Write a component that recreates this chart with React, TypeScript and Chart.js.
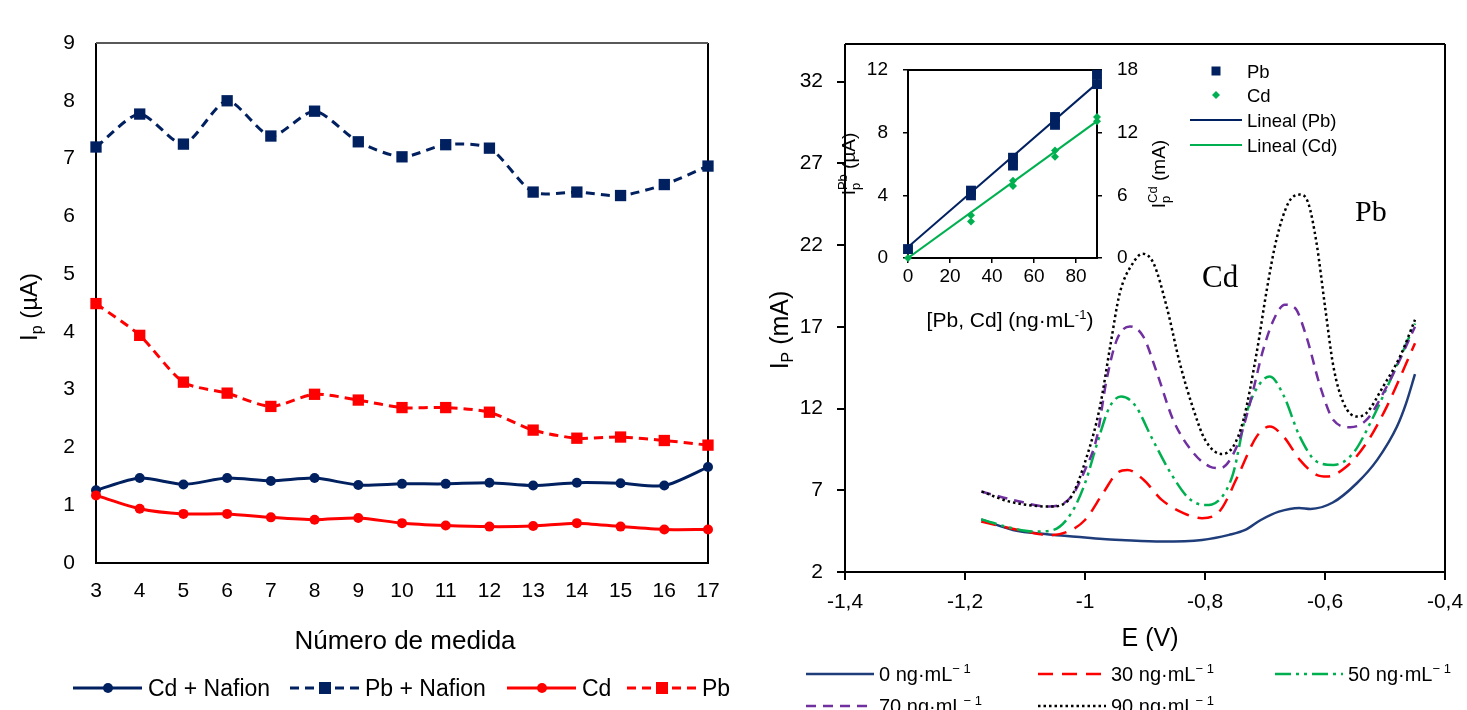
import React, { useEffect, useRef } from 'react';
import { Chart, registerables } from 'chart.js';

Chart.register(...registerables);

const SANS = '"Liberation Sans", Arial, Helvetica, sans-serif';
const SERIF = '"Liberation Serif", "Times New Roman", serif';
Chart.defaults.font.family = SANS;

const NAVY = '#002060';
const RED = '#FF0000';
const GREEN = '#00B050';
const PURPLE = '#7030A0';
const BLUE0 = '#1F3D7A';

// ---------- left panel data ----------
const measurementNumbers = [3, 4, 5, 6, 7, 8, 9, 10, 11, 12, 13, 14, 15, 16, 17];
const cdNafion = [1.26, 1.47, 1.36, 1.47, 1.42, 1.47, 1.35, 1.37, 1.37, 1.39, 1.34, 1.39, 1.38, 1.34, 1.66];
const pbNafion = [7.2, 7.77, 7.25, 8.0, 7.39, 7.82, 7.29, 7.03, 7.24, 7.18, 6.42, 6.42, 6.36, 6.55, 6.87];
const cdBare = [1.17, 0.94, 0.85, 0.85, 0.79, 0.75, 0.78, 0.69, 0.65, 0.63, 0.64, 0.69, 0.63, 0.58, 0.58];
const pbBare = [4.49, 3.94, 3.13, 2.94, 2.71, 2.92, 2.82, 2.69, 2.69, 2.61, 2.3, 2.16, 2.18, 2.12, 2.04];
const leftYTicks = [0, 1, 2, 3, 4, 5, 6, 7, 8, 9];
const leftLabels = ['Cd + Nafion', 'Pb + Nafion', 'Cd', 'Pb'];

// ---------- right panel data ----------
const potentialTicks = [-1.4, -1.2, -1.0, -0.8, -0.6, -0.4];
const currentTicks = [2, 7, 12, 17, 22, 27, 32];
const concentrations = ['0', '30', '50', '70', '90'];

const e0 = [-1.173, -1.12, -1.06, -1.015, -0.97, -0.94, -0.872, -0.805, -0.76, -0.733, -0.707, -0.677, -0.643, -0.624, -0.587, -0.547, -0.513, -0.48, -0.465, -0.45];
const i0 = [5.22, 4.57, 4.3, 4.16, 4.02, 3.96, 3.86, 3.96, 4.27, 4.57, 5.18, 5.69, 5.92, 5.86, 6.25, 7.43, 8.86, 10.9, 12.3, 14.1];

const e30 = [-1.173, -1.097, -1.058, -1.03, -1.0, -0.97, -0.947, -0.929, -0.902, -0.872, -0.835, -0.805, -0.775, -0.745, -0.714, -0.692, -0.669, -0.642, -0.614, -0.597, -0.564, -0.531, -0.497, -0.45];
const i30 = [5.08, 4.47, 4.25, 4.45, 5.18, 6.82, 8.04, 8.24, 7.63, 6.41, 5.59, 5.29, 5.75, 7.9, 10.28, 10.9, 10.28, 8.86, 7.94, 7.84, 8.45, 9.88, 12.12, 16.0];

const e50 = [-1.173, -1.12, -1.083, -1.053, -1.023, -1.0, -0.978, -0.959, -0.94, -0.917, -0.887, -0.857, -0.827, -0.8, -0.775, -0.753, -0.731, -0.708, -0.692, -0.669, -0.642, -0.614, -0.586, -0.553, -0.522, -0.486, -0.45];
const i50 = [5.22, 4.67, 4.47, 4.57, 5.59, 7.43, 10.08, 12.1, 12.73, 12.22, 10.08, 8.04, 6.51, 6.1, 6.45, 8.04, 11.72, 13.55, 13.96, 12.8, 10.28, 8.76, 8.55, 9.27, 11.3, 14.17, 17.2];

const e70 = [-1.173, -1.12, -1.06, -1.023, -1.0, -0.98, -0.964, -0.947, -0.925, -0.903, -0.88, -0.853, -0.819, -0.792, -0.775, -0.747, -0.725, -0.703, -0.683, -0.667, -0.65, -0.631, -0.608, -0.586, -0.558, -0.531, -0.497, -0.45];
const i70 = [6.92, 6.41, 6.0, 6.6, 8.24, 10.28, 13.76, 16.2, 17.02, 16.41, 14.17, 11.3, 9.27, 8.45, 8.35, 9.67, 12.33, 15.6, 17.63, 18.35, 18.15, 16.4, 13.35, 11.3, 10.86, 11.3, 13.35, 17.0];

const e90 = [-1.172, -1.125, -1.058, -1.025, -0.997, -0.975, -0.958, -0.942, -0.92, -0.904, -0.886, -0.864, -0.842, -0.819, -0.8, -0.772, -0.753, -0.736, -0.714, -0.697, -0.681, -0.661, -0.642, -0.628, -0.614, -0.6, -0.586, -0.569, -0.547, -0.531, -0.503, -0.475, -0.45];
const i90 = [6.92, 6.3, 6.0, 6.51, 9.06, 12.12, 15.8, 19.07, 20.9, 21.47, 20.9, 18.25, 14.78, 11.92, 10.1, 9.22, 9.67, 11.3, 15.39, 19.27, 22.33, 24.58, 25.09, 24.58, 22.1, 18.25, 14.57, 12.33, 11.51, 11.72, 13.35, 15.18, 17.43];

// ---------- inset data ----------
const insetXTicks = [0, 20, 40, 60, 80];
const insetPbTicks = [0, 4, 8, 12];
const insetCdTicks = [0, 6, 12, 18];
const insetPbConc = [0, 30, 30, 50, 50, 70, 70, 90, 90];
const insetPb = [0.57, 4.3, 4.0, 6.4, 5.9, 9.0, 8.5, 11.7, 11.1];
const insetCdConc = [0, 30, 30, 50, 50, 70, 70, 90, 90];
const insetCd = [0, 4.1, 3.5, 7.4, 6.9, 10.3, 9.7, 13.5, 13.1];
const pbFitX = [0, 90];
const pbFitY = [0.7, 11.15];
const cdFitX = [0, 90];
const cdFitY = [0, 13.1];

// ---------- helpers ----------
type Part = { t: string; size: number; dy?: number; stack?: boolean; font?: string };

function drawParts(ctx: CanvasRenderingContext2D, x: number, y: number, parts: Part[], align: 'left' | 'center', rotate = false, color = '#000') {
  ctx.save();
  ctx.translate(x, y);
  if (rotate) ctx.rotate(-Math.PI / 2);
  let total = 0;
  for (const p of parts) {
    ctx.font = `${p.size}px ${p.font || SANS}`;
    if (!p.stack) total += ctx.measureText(p.t).width;
  }
  let cx = align === 'center' ? -total / 2 : 0;
  ctx.textAlign = 'left';
  ctx.textBaseline = 'alphabetic';
  ctx.fillStyle = color;
  for (const p of parts) {
    ctx.font = `${p.size}px ${p.font || SANS}`;
    ctx.fillText(p.t, cx, p.dy || 0);
    if (!p.stack) cx += ctx.measureText(p.t).width;
  }
  ctx.restore();
}

function drawBox(chart: any, topColor = '#000', lw = 2) {
  const { ctx, chartArea: a } = chart;
  ctx.save();
  ctx.lineWidth = lw;
  ctx.strokeStyle = '#000';
  ctx.beginPath();
  ctx.moveTo(a.left, a.top);
  ctx.lineTo(a.left, a.bottom);
  ctx.lineTo(a.right, a.bottom);
  ctx.lineTo(a.right, a.top);
  ctx.stroke();
  ctx.strokeStyle = topColor;
  ctx.beginPath();
  ctx.moveTo(a.left, a.top);
  ctx.lineTo(a.right, a.top);
  ctx.stroke();
  ctx.restore();
}

function legendLine(ctx: CanvasRenderingContext2D, x0: number, x1: number, y: number, color: string, dash: number[], lw: number) {
  ctx.save();
  ctx.strokeStyle = color;
  ctx.lineWidth = lw;
  ctx.setLineDash(dash);
  ctx.beginPath();
  ctx.moveTo(x0, y);
  ctx.lineTo(x1, y);
  ctx.stroke();
  ctx.restore();
}

function marker(ctx: CanvasRenderingContext2D, kind: string, x: number, y: number, r: number, color: string) {
  ctx.save();
  ctx.fillStyle = color;
  ctx.beginPath();
  if (kind === 'circle') ctx.arc(x, y, r, 0, Math.PI * 2);
  else if (kind === 'rect') ctx.rect(x - r, y - r, 2 * r, 2 * r);
  else {
    ctx.moveTo(x, y - r);
    ctx.lineTo(x + r, y);
    ctx.lineTo(x, y + r);
    ctx.lineTo(x - r, y);
    ctx.closePath();
  }
  ctx.fill();
  ctx.restore();
}

const fixedTicks = (vals: number[]) => (axis: any) => {
  axis.ticks = vals.map((v) => ({ value: v }));
};

const leftStyles = [
  { color: NAVY, dash: [] as number[], point: 'circle', radius: 5 },
  { color: NAVY, dash: [9, 6], point: 'rect', radius: 8 },
  { color: RED, dash: [] as number[], point: 'circle', radius: 5 },
  { color: RED, dash: [9, 6], point: 'rect', radius: 8 },
];

const curveStyles = [
  { color: BLUE0, dash: [] as number[], width: 2.5 },
  { color: RED, dash: [15, 9], width: 2.5 },
  { color: GREEN, dash: [16, 5, 3, 5, 3, 5], width: 2.5 },
  { color: PURPLE, dash: [10, 7], width: 2.5 },
  { color: '#000', dash: [2.5, 3], width: 2.5 },
];

// ---------- plugins ----------
const leftDecor = {
  id: 'leftDecor',
  beforeDatasetsDraw(chart: any) {
    drawBox(chart, '#595959', 2);
  },
  afterDraw(chart: any) {
    const ctx = chart.ctx as CanvasRenderingContext2D;
    drawParts(ctx, 37, 307, [{ t: 'I', size: 24 }, { t: 'p', size: 16, dy: 5 }, { t: ' (µA)', size: 24 }], 'center', true);
    drawParts(ctx, 405, 649, [{ t: 'Número de medida', size: 26 }], 'center');
    const xs = [73, 290, 507, 627];
    const y = 688;
    leftLabels.forEach((lab, i) => {
      const s = leftStyles[i];
      legendLine(ctx, xs[i], xs[i] + 69, y, s.color, s.dash, 3);
      marker(ctx, s.point, xs[i] + 35, y, s.point === 'rect' ? 6 : 5, s.color);
      drawParts(ctx, xs[i] + 75, y + 8, [{ t: lab, size: 23 }], 'left');
    });
  },
};

const rightDecor = {
  id: 'rightDecor',
  beforeDatasetsDraw(chart: any) {
    drawBox(chart, '#000', 2);
  },
  afterDraw(chart: any) {
    const ctx = chart.ctx as CanvasRenderingContext2D;
    const xs = chart.scales.x;
    const ys = chart.scales.y;
    drawParts(ctx, 48, 330, [{ t: 'I', size: 25 }, { t: 'P', size: 16, dy: 5 }, { t: ' (mA)', size: 25 }], 'center', true);
    drawParts(ctx, 410, 646, [{ t: 'E (V)', size: 25 }], 'center');
    drawParts(ctx, xs.getPixelForValue(-0.805), ys.getPixelForValue(19.45), [{ t: 'Cd', size: 31, font: SERIF }], 'left');
    drawParts(ctx, xs.getPixelForValue(-0.55), ys.getPixelForValue(23.5), [{ t: 'Pb', size: 30, font: SERIF }], 'left');
    const pos = [
      [66, 674],
      [298, 674],
      [535, 674],
      [66, 706],
      [298, 706],
    ];
    concentrations.forEach((c, i) => {
      const s = curveStyles[i];
      const [x0, y] = pos[i];
      legendLine(ctx, x0, x0 + 68, y, s.color, s.dash, s.width);
      drawParts(ctx, x0 + 73, y + 7, [{ t: `${c} ng·mL`, size: 20 }, { t: '− 1', size: 13, dy: -8 }], 'left');
    });
  },
};

const insetDecor = {
  id: 'insetDecor',
  beforeDatasetsDraw(chart: any) {
    drawBox(chart, '#000', 2);
  },
  afterDraw(chart: any) {
    const ctx = chart.ctx as CanvasRenderingContext2D;
    drawParts(ctx, 65, 124, [
      { t: 'I', size: 19 },
      { t: 'p', size: 13, dy: 5, stack: true },
      { t: 'Pb', size: 13, dy: -8 },
      { t: ' (µA)', size: 19 },
    ], 'center', true);
    drawParts(ctx, 375, 134, [
      { t: 'I', size: 19 },
      { t: 'p', size: 13, dy: 5, stack: true },
      { t: 'Cd', size: 13, dy: -8 },
      { t: ' (mA)', size: 19 },
    ], 'center', true);
    drawParts(ctx, 220, 287, [
      { t: '[Pb, Cd] (ng·mL', size: 21 },
      { t: '-1', size: 13, dy: -8 },
      { t: ')', size: 21 },
    ], 'center');
    // legend
    marker(ctx, 'rect', 426, 31, 4.5, NAVY);
    drawParts(ctx, 457, 38, [{ t: 'Pb', size: 18.5 }], 'left');
    marker(ctx, 'diamond', 426, 55, 4, GREEN);
    drawParts(ctx, 457, 62, [{ t: 'Cd', size: 18.5 }], 'left');
    legendLine(ctx, 400, 452, 80, NAVY, [], 2);
    drawParts(ctx, 457, 87, [{ t: 'Lineal (Pb)', size: 18.5 }], 'left');
    legendLine(ctx, 400, 452, 105, GREEN, [], 2);
    drawParts(ctx, 457, 112, [{ t: 'Lineal (Cd)', size: 18.5 }], 'left');
  },
};

const commaFmt = (v: any) => {
  const n = Math.round(Number(v) * 10) / 10;
  return String(n).replace('.', ',');
};

export default function App() {
  const aRef = useRef<HTMLCanvasElement>(null);
  const bRef = useRef<HTMLCanvasElement>(null);
  const cRef = useRef<HTMLCanvasElement>(null);

  useEffect(() => {
    document.body.style.margin = '0';
    const charts: Chart[] = [];

    const leftSeries = [cdNafion, pbNafion, cdBare, pbBare];
    charts.push(
      new Chart(aRef.current as HTMLCanvasElement, {
        type: 'line',
        data: {
          datasets: leftSeries.map((vals, i) => ({
            label: leftLabels[i],
            data: measurementNumbers.map((x, k) => ({ x, y: vals[k] })),
            borderColor: leftStyles[i].color,
            backgroundColor: leftStyles[i].color,
            borderWidth: 3,
            borderDash: leftStyles[i].dash,
            pointStyle: leftStyles[i].point as any,
            pointRadius: leftStyles[i].radius,
            pointHoverRadius: leftStyles[i].radius,
            pointBorderWidth: 0,
            tension: 0.25,
            clip: false as any,
            order: 4 - i,
          })),
        },
        options: {
          responsive: false,
          animation: false,
          devicePixelRatio: 1,
          events: [],
          layout: { padding: { left: 0, top: 43, right: 32, bottom: 107 } },
          plugins: { legend: { display: false }, tooltip: { enabled: false } },
          scales: {
            x: {
              type: 'linear',
              min: 3,
              max: 17,
              afterBuildTicks: fixedTicks(measurementNumbers),
              grid: { display: false, drawTicks: false },
              border: { display: false },
              ticks: { font: { size: 21, family: SANS }, color: '#000', padding: 16 },
              afterFit: (s: any) => {
                s.height = 40;
              },
            },
            y: {
              type: 'linear',
              min: 0,
              max: 9,
              afterBuildTicks: fixedTicks(leftYTicks),
              grid: { display: false, drawTicks: false },
              border: { display: false },
              ticks: { font: { size: 21, family: SANS }, color: '#000', padding: 21 },
              afterFit: (s: any) => {
                s.width = 96;
              },
            },
          },
        },
        plugins: [leftDecor],
      } as any)
    );

    const curvesE = [e0, e30, e50, e70, e90];
    const curvesI = [i0, i30, i50, i70, i90];
    charts.push(
      new Chart(bRef.current as HTMLCanvasElement, {
        type: 'line',
        data: {
          datasets: curvesE.map((es, i) => ({
            label: `${concentrations[i]} ng·mL⁻¹`,
            data: es.map((x, k) => ({ x, y: curvesI[i][k] })),
            borderColor: curveStyles[i].color,
            backgroundColor: curveStyles[i].color,
            borderWidth: curveStyles[i].width,
            borderDash: curveStyles[i].dash,
            pointRadius: 0,
            pointHoverRadius: 0,
            tension: 0.4,
            cubicInterpolationMode: 'monotone',
            order: 5 - i,
          })),
        },
        options: {
          responsive: false,
          animation: false,
          devicePixelRatio: 1,
          events: [],
          layout: { padding: { left: 0, top: 44, right: 47, bottom: 98 } },
          plugins: { legend: { display: false }, tooltip: { enabled: false } },
          scales: {
            x: {
              type: 'linear',
              min: -1.4,
              max: -0.4,
              afterBuildTicks: fixedTicks(potentialTicks),
              grid: { display: true, drawOnChartArea: false, drawTicks: true, tickLength: 8, color: '#000', lineWidth: 2 },
              border: { display: false },
              ticks: { font: { size: 21, family: SANS }, color: '#000', padding: 10, callback: commaFmt },
              afterFit: (s: any) => {
                s.height = 40;
              },
            },
            y: {
              type: 'linear',
              min: 2,
              max: 34.3,
              afterBuildTicks: fixedTicks(currentTicks),
              grid: { display: true, drawOnChartArea: false, drawTicks: true, tickLength: 8, color: '#000', lineWidth: 2 },
              border: { display: false },
              ticks: { font: { size: 21, family: SANS }, color: '#000', padding: 14 },
              afterFit: (s: any) => {
                s.width = 105;
              },
            },
          },
        },
        plugins: [rightDecor],
      } as any)
    );

    charts.push(
      new Chart(cRef.current as HTMLCanvasElement, {
        type: 'line',
        data: {
          datasets: [
            {
              type: 'scatter',
              label: 'Pb',
              data: insetPbConc.map((x, k) => ({ x, y: insetPb[k] })),
              backgroundColor: NAVY,
              borderColor: NAVY,
              pointStyle: 'rect',
              pointRadius: 7,
              pointBorderWidth: 0,
              showLine: false,
              yAxisID: 'y',
              clip: false,
              order: 0,
            },
            {
              type: 'scatter',
              label: 'Cd',
              data: insetCdConc.map((x, k) => ({ x, y: insetCd[k] })),
              backgroundColor: GREEN,
              borderColor: GREEN,
              pointStyle: 'rectRot',
              pointRadius: 4,
              pointBorderWidth: 0,
              showLine: false,
              yAxisID: 'y2',
              clip: false,
              order: 1,
            },
            {
              type: 'line',
              label: 'Lineal (Pb)',
              data: pbFitX.map((x, k) => ({ x, y: pbFitY[k] })),
              borderColor: NAVY,
              borderWidth: 2,
              pointRadius: 0,
              yAxisID: 'y',
              order: 2,
            },
            {
              type: 'line',
              label: 'Lineal (Cd)',
              data: cdFitX.map((x, k) => ({ x, y: cdFitY[k] })),
              borderColor: GREEN,
              borderWidth: 2,
              pointRadius: 0,
              yAxisID: 'y2',
              order: 3,
            },
          ],
        },
        options: {
          responsive: false,
          animation: false,
          devicePixelRatio: 1,
          events: [],
          layout: { padding: { left: 0, top: 30, right: 203, bottom: 32 } },
          plugins: { legend: { display: false }, tooltip: { enabled: false } },
          scales: {
            x: {
              type: 'linear',
              min: 0,
              max: 90,
              afterBuildTicks: fixedTicks(insetXTicks),
              grid: { display: true, drawOnChartArea: false, drawTicks: true, tickLength: 5, color: '#000', lineWidth: 1.5 },
              border: { display: false },
              ticks: { font: { size: 19, family: SANS }, color: '#000', padding: 2 },
              afterFit: (s: any) => {
                s.height = 50;
              },
            },
            y: {
              type: 'linear',
              position: 'left',
              min: 0,
              max: 12,
              afterBuildTicks: fixedTicks(insetPbTicks),
              grid: { display: true, drawOnChartArea: false, drawTicks: true, tickLength: 5, color: '#000', lineWidth: 1.5 },
              border: { display: false },
              ticks: { font: { size: 19, family: SANS }, color: '#000', padding: 15 },
              afterFit: (s: any) => {
                s.width = 118;
              },
            },
            y2: {
              type: 'linear',
              position: 'right',
              min: 0,
              max: 18,
              afterBuildTicks: fixedTicks(insetCdTicks),
              grid: { display: true, drawOnChartArea: false, drawTicks: true, tickLength: 5, color: '#000', lineWidth: 1.5 },
              border: { display: false },
              ticks: { font: { size: 19, family: SANS }, color: '#000', padding: 15 },
              afterFit: (s: any) => {
                s.width = 60;
              },
            },
          },
        },
        plugins: [insetDecor],
      } as any)
    );

    return () => {
      charts.forEach((c) => c.destroy());
    };
  }, []);

  return (
    <div style={{ position: 'fixed', left: 0, top: 0, width: 1467, height: 710, background: '#fff', overflow: 'hidden' }}>
      <canvas ref={aRef} width={740} height={710} style={{ position: 'absolute', left: 0, top: 0, width: 740, height: 710 }} />
      <canvas ref={bRef} width={752} height={710} style={{ position: 'absolute', left: 740, top: 0, width: 752, height: 710 }} />
      <canvas ref={cRef} width={570} height={300} style={{ position: 'absolute', left: 790, top: 40, width: 570, height: 300 }} />
    </div>
  );
}
